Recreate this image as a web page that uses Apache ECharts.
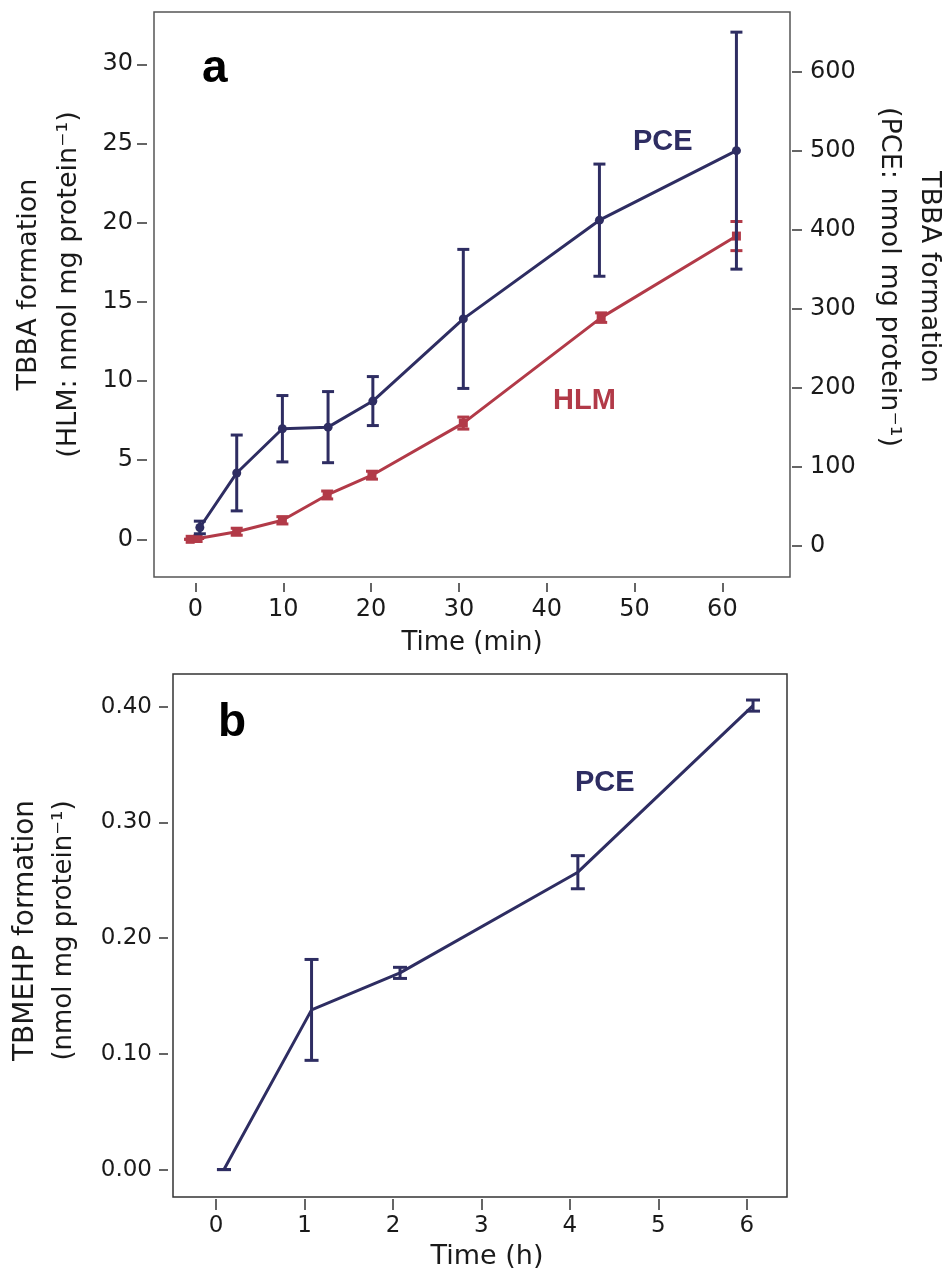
<!DOCTYPE html>
<html>
<head>
<meta charset="utf-8">
<script src="https://cdn.jsdelivr.net/npm/echarts@6/dist/echarts.min.js"></script>
<style>
  html, body { margin: 0; padding: 0; background: #ffffff; }
  #chart { width: 946px; height: 1276px; }
</style>
</head>
<body>
<div id="chart"></div>
<script>
// ---------- Panel a: TBBA formation ----------
const timeA_PCE = [0.5, 4.7, 9.9, 15.1, 20.2, 30.5, 46.0, 61.6];
const pceMean   = [23, 92, 148, 150, 183, 287, 412, 500];
const pceSD     = [8, 48, 42, 45, 31, 88, 71, 150];

const timeA_HLM = [-0.6, 0.3, 4.7, 9.9, 15.0, 20.1, 30.5, 46.2, 61.6];
const hlmMean   = [0, 0.05, 0.48, 1.2, 2.8, 4.05, 7.34, 14.0, 19.15];
const hlmSD     = [0, 0, 0.22, 0.23, 0.25, 0.25, 0.38, 0.3, 0.92];

const ticksA_x     = [0, 10, 20, 30, 40, 50, 60];
const ticksA_left  = [0, 5, 10, 15, 20, 25, 30];
const ticksA_right = [0, 100, 200, 300, 400, 500, 600];

// ---------- Panel b: TBMEHP formation ----------
const timeB      = [0.09, 1.08, 2.08, 4.09, 6.07];
const tbmehpMean = [0, 0.138, 0.170, 0.257, 0.401];
const tbmehpSD   = [0, 0.0436, 0.0048, 0.0143, 0.0048];

const ticksB_x = [0, 1, 2, 3, 4, 5, 6];
const ticksB_y = [0, 0.1, 0.2, 0.3, 0.4];

// ---------- styling ----------
const NAVY = '#2e2d62';
const RED = '#b23a48';
const FONT = "'DejaVu Sans', sans-serif";
const BOLD = "'Liberation Sans', Arial, sans-serif";
const TXT = '#1a1a1a';
const AX = '#333333';

function pairs(xs, ys) { return xs.map((x, i) => [x, ys[i]]); }
function errData(xs, m, s) { return xs.map((x, i) => [x, m[i] - s[i], m[i] + s[i]]); }

function errRender(color, hw, lw) {
  return function (params, api) {
    const x = api.value(0), lo = api.value(1), hi = api.value(2);
    const pLo = api.coord([x, lo]);
    const pHi = api.coord([x, hi]);
    const st = { stroke: color, lineWidth: lw, fill: null };
    return {
      type: 'group',
      children: [
        { type: 'line', shape: { x1: pLo[0], y1: pLo[1], x2: pHi[0], y2: pHi[1] }, style: st },
        { type: 'line', shape: { x1: pLo[0] - hw, y1: pLo[1], x2: pLo[0] + hw, y2: pLo[1] }, style: st },
        { type: 'line', shape: { x1: pHi[0] - hw, y1: pHi[1], x2: pHi[0] + hw, y2: pHi[1] }, style: st }
      ]
    };
  };
}

function axisCommon(ticks, fontSize, margin, tickLen, offset, fmt) {
  return {
    type: 'value',
    offset: offset,
    axisLine: { show: false, onZero: false },
    axisTick: { show: true, length: tickLen, customValues: ticks, lineStyle: { color: AX, width: 1.5 } },
    axisLabel: {
      show: true, customValues: ticks, margin: margin,
      fontFamily: FONT, fontSize: fontSize, color: TXT,
      formatter: fmt || (v => String(v))
    },
    splitLine: { show: false }
  };
}

const chart = echarts.init(document.getElementById('chart'), null, { renderer: 'canvas' });

const option = {
  backgroundColor: '#ffffff',
  animation: false,
  grid: [
    { left: 154, top: 12, width: 636, height: 565, show: true, borderColor: '#555', borderWidth: 1.5, backgroundColor: 'transparent', containLabel: false, outerBoundsMode: 'none' },
    { left: 173, top: 674, width: 614, height: 523, show: true, borderColor: '#333', borderWidth: 1.5, backgroundColor: 'transparent', containLabel: false, outerBoundsMode: 'none' }
  ],
  xAxis: [
    Object.assign(axisCommon(ticksA_x, 24, 15, 9, 6), {
      gridIndex: 0, position: 'bottom', min: -4.72, max: 67.7,
      name: 'Time (min)', nameLocation: 'middle', nameGap: 47,
      nameTextStyle: { fontFamily: FONT, fontSize: 26, color: TXT }
    }),
    Object.assign(axisCommon(ticksB_x, 23, 16, 11, 2), {
      gridIndex: 1, position: 'bottom', min: -0.486, max: 6.454,
      name: 'Time (h)', nameLocation: 'middle', nameGap: 44,
      nameTextStyle: { fontFamily: FONT, fontSize: 27, color: TXT, padding: [0, 0, 0, 14] }
    })
  ],
  yAxis: [
    Object.assign(axisCommon(ticksA_left, 24, 14, 10, 7), {
      gridIndex: 0, position: 'left', min: -2.38, max: 33.3,
      name: '{l|TBBA formation}\n{l|(HLM: nmol mg protein⁻¹)}',
      nameLocation: 'middle', nameGap: 58,
      nameTextStyle: {
        color: TXT, padding: [0, 0, 0, 20],
        rich: { l: { fontFamily: FONT, fontSize: 27, lineHeight: 40, color: TXT } }
      }
    }),
    Object.assign(axisCommon(ticksA_right, 24, 18, 10, 2), {
      gridIndex: 0, position: 'right', min: -39.7, max: 675.5,
      name: '{l|TBBA formation}\n{l|(PCE: nmol mg protein⁻¹)}',
      nameLocation: 'middle', nameGap: 77, nameRotate: -90,
      nameTextStyle: {
        color: TXT, padding: [0, 35, 0, 0],
        rich: { l: { fontFamily: FONT, fontSize: 27, lineHeight: 40, color: TXT } }
      }
    }),
    Object.assign(axisCommon(ticksB_y, 23, 16, 9, 5, v => v.toFixed(2)), {
      gridIndex: 1, position: 'left', min: -0.0237, max: 0.4283,
      name: '{a|TBMEHP formation}\n{b|(nmol mg protein⁻¹)}',
      nameLocation: 'middle', nameGap: 85,
      nameTextStyle: {
        color: TXT, padding: [0, 0, 0, 10],
        rich: {
          a: { fontFamily: FONT, fontSize: 28, lineHeight: 38, color: TXT },
          b: { fontFamily: FONT, fontSize: 26, lineHeight: 38, color: TXT }
        }
      }
    })
  ],
  series: [
    {
      name: 'HLM', type: 'line', xAxisIndex: 0, yAxisIndex: 0,
      data: pairs(timeA_HLM, hlmMean),
      symbol: 'rect', symbolSize: 9, showSymbol: true,
      lineStyle: { color: RED, width: 3 }, itemStyle: { color: RED }, z: 3
    },
    {
      name: 'HLM error', type: 'custom', xAxisIndex: 0, yAxisIndex: 0,
      data: errData(timeA_HLM, hlmMean, hlmSD),
      renderItem: errRender(RED, 6, 3), z: 3
    },
    {
      name: 'PCE', type: 'line', xAxisIndex: 0, yAxisIndex: 1,
      data: pairs(timeA_PCE, pceMean),
      symbol: 'circle', symbolSize: 9, showSymbol: true,
      lineStyle: { color: NAVY, width: 3 }, itemStyle: { color: NAVY }, z: 4
    },
    {
      name: 'PCE error', type: 'custom', xAxisIndex: 0, yAxisIndex: 1,
      data: errData(timeA_PCE, pceMean, pceSD),
      renderItem: errRender(NAVY, 6, 3), z: 4
    },
    {
      name: 'TBMEHP', type: 'line', xAxisIndex: 1, yAxisIndex: 2,
      data: pairs(timeB, tbmehpMean),
      symbol: 'none',
      lineStyle: { color: NAVY, width: 3 }, z: 4
    },
    {
      name: 'TBMEHP error', type: 'custom', xAxisIndex: 1, yAxisIndex: 2,
      data: errData(timeB, tbmehpMean, tbmehpSD),
      renderItem: errRender(NAVY, 7, 3), z: 4
    }
  ],
  graphic: [
    { type: 'text', left: 202, top: 46, z: 10, style: { text: 'a', font: "bold 46px " + BOLD, fill: '#000' } },
    { type: 'text', left: 218, top: 700, z: 10, style: { text: 'b', font: "bold 46px " + BOLD, fill: '#000' } },
    { type: 'text', left: 633, top: 127, z: 10, style: { text: 'PCE', font: "bold 29px " + BOLD, fill: NAVY } },
    { type: 'text', left: 553, top: 386, z: 10, style: { text: 'HLM', font: "bold 29px " + BOLD, fill: RED } },
    { type: 'text', left: 575, top: 768, z: 10, style: { text: 'PCE', font: "bold 29px " + BOLD, fill: NAVY } }
  ]
};

chart.setOption(option);
</script>
</body>
</html>
